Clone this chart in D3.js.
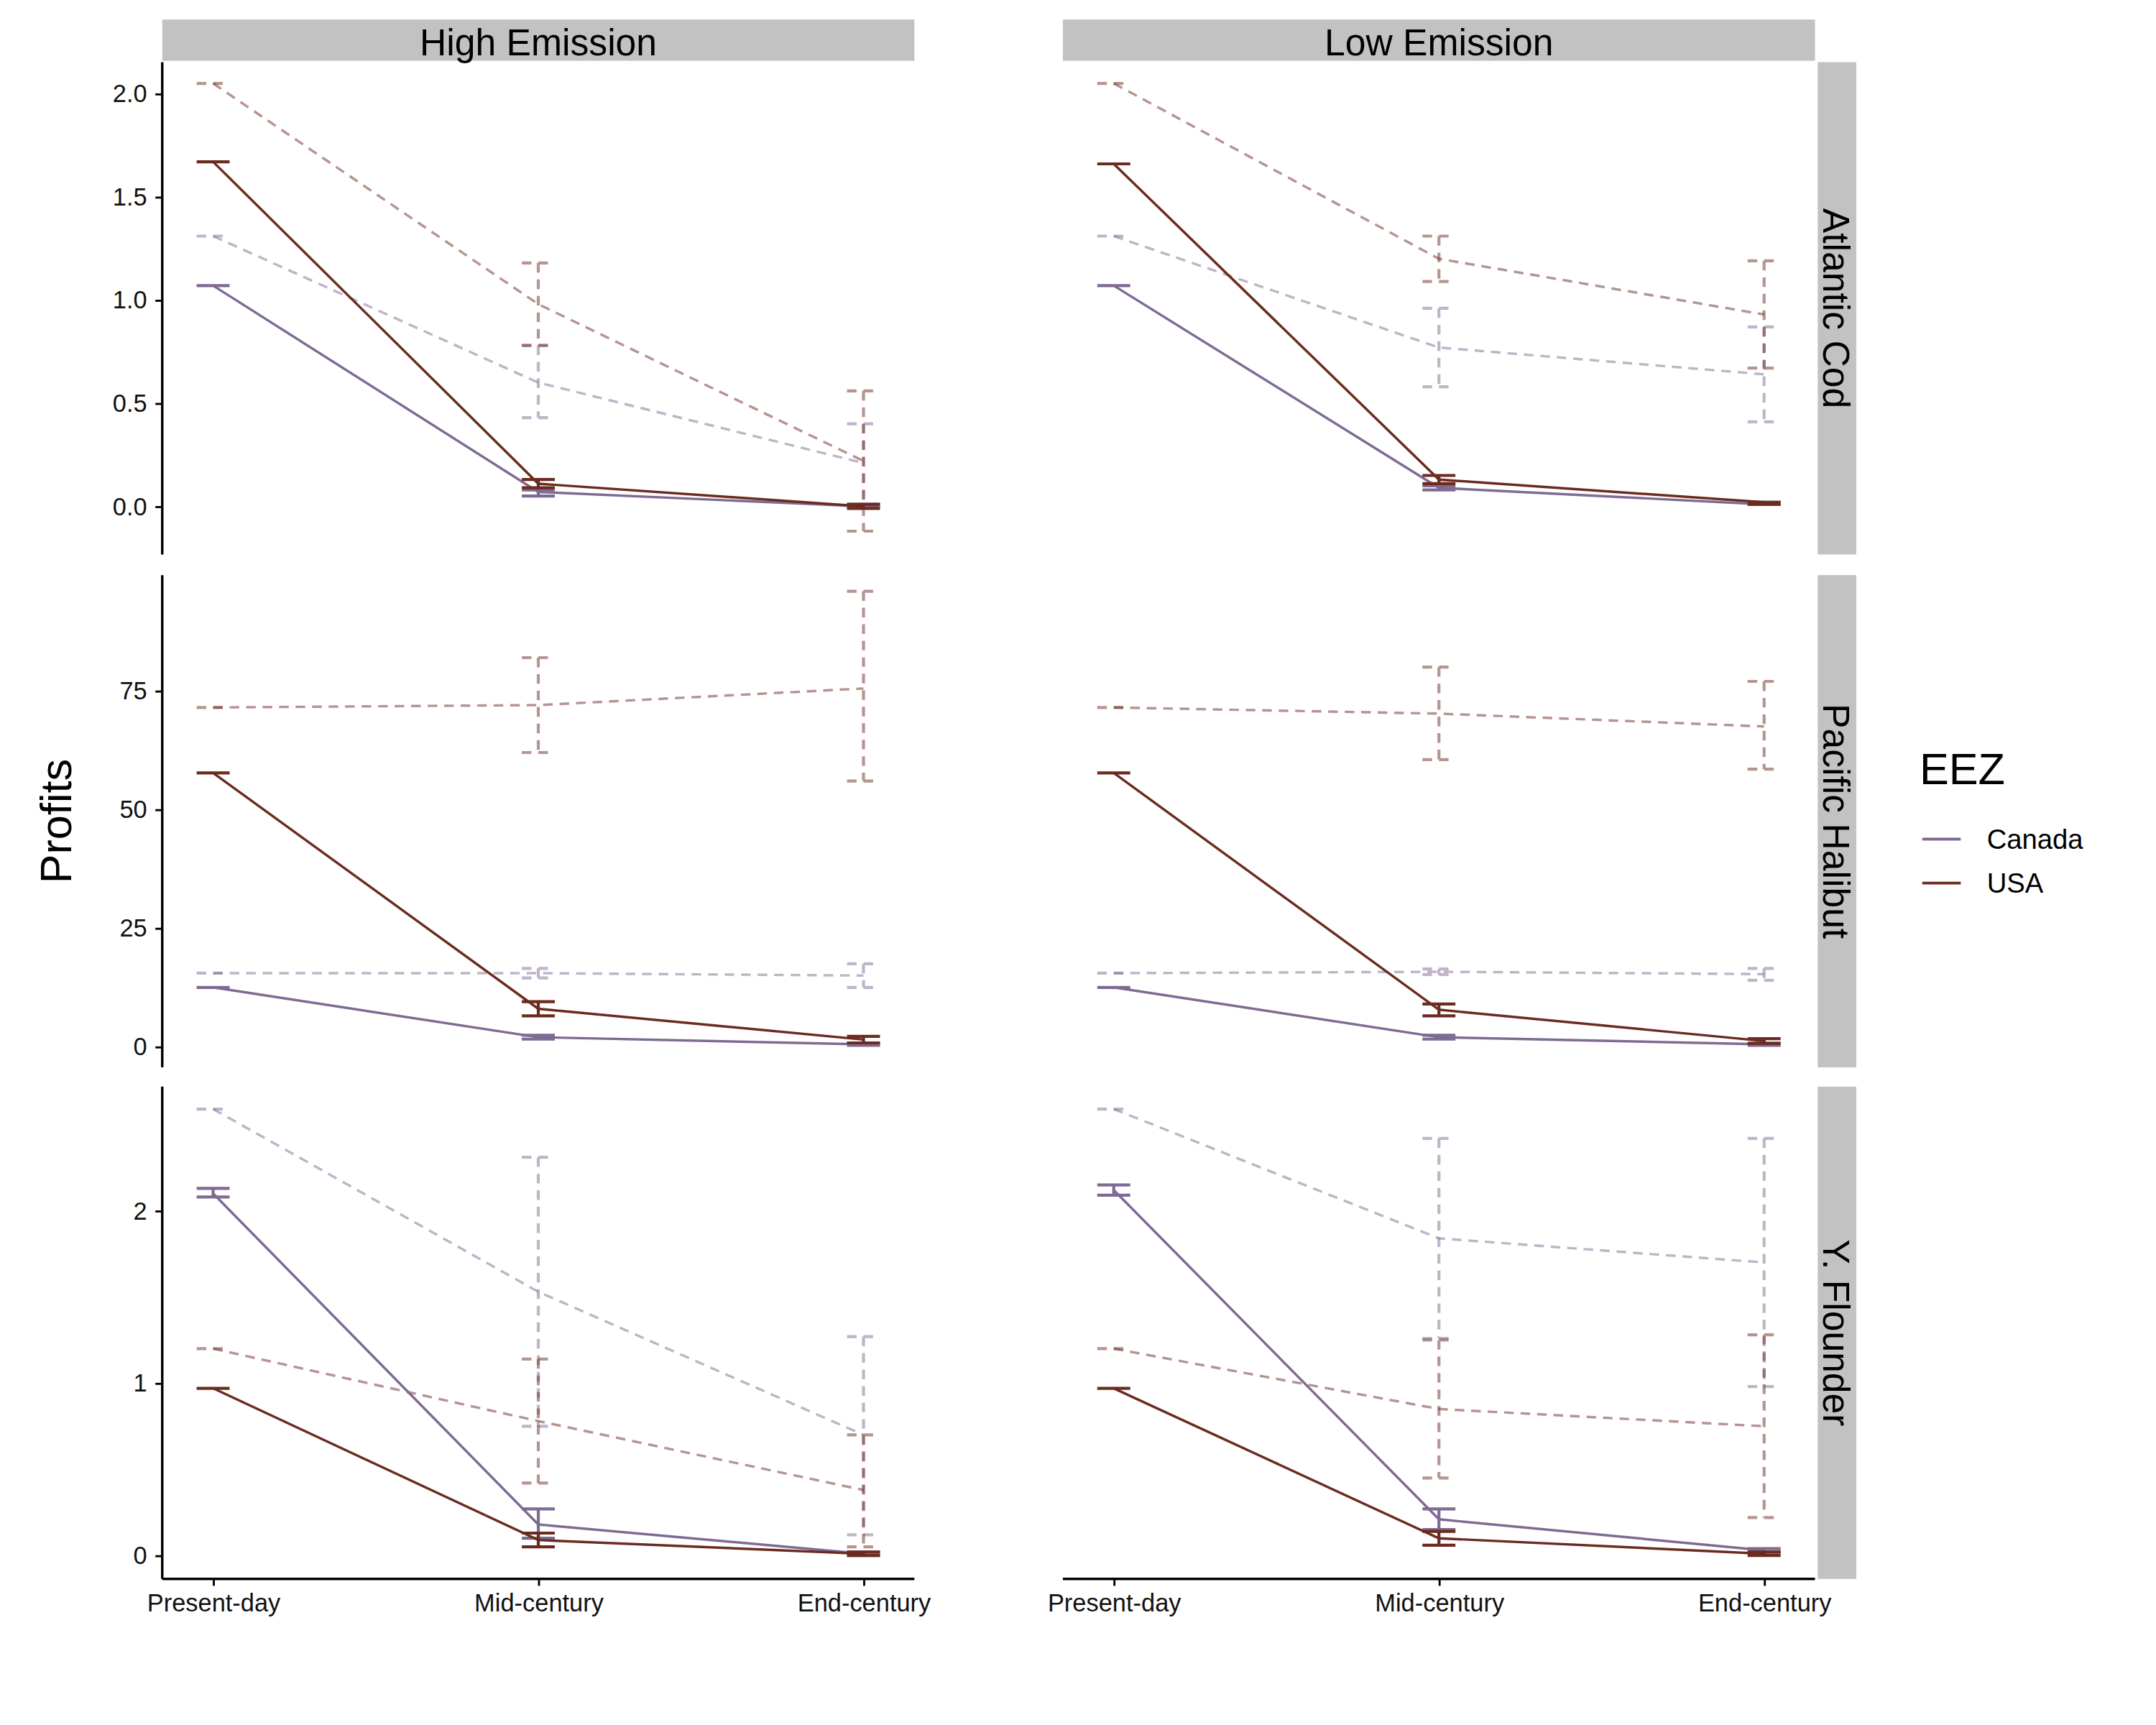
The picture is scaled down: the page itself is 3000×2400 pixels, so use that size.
<!DOCTYPE html>
<html><head><meta charset="utf-8">
<script src="https://cdn.jsdelivr.net/npm/d3@7"></script>
<style>body{margin:0;background:#fff}text{font-family:"Liberation Sans",Arial,sans-serif}</style>
</head><body><svg id="chart"></svg>
<script>
let times = ["Present-day", "Mid-century", "End-century"];
let scenarios = ["High Emission", "Low Emission"];
let species = ["Atlantic Cod", "Pacific Halibut", "Y. Flounder"];
let eez = ["Canada", "USA"];
let yTicks = [[0, 0.5, 1, 1.5, 2], [0, 25, 50, 75], [0, 1, 2]];
let yDomains = [[-0.233, 2.153], [-4.36, 99.4], [-0.136, 2.72]];
let yFormats = [".1f", "d", "d"];

// [mean, low, high] per time; index [species][scenario]
let canadaSolid = [
  [[[1.07,1.07,1.07],[0.07,0.05,0.08],[0.0,0.0,0.01]], [[1.07,1.07,1.07],[0.09,0.08,0.10],[0.01,0.01,0.02]]],
  [[[12.5,12.5,12.5],[2,1.6,2.4],[0.5,0.3,0.7]], [[12.5,12.5,12.5],[2,1.6,2.4],[0.5,0.3,0.7]]],
  [[[2.1,2.08,2.13],[0.18,0.1,0.27],[0.01,0,0.02]], [[2.12,2.09,2.15],[0.21,0.15,0.27],[0.03,0.02,0.04]]]
];
let usaSolid = [
  [[[1.67,1.67,1.67],[0.11,0.09,0.13],[0.0,-0.01,0.01]], [[1.66,1.66,1.66],[0.13,0.11,0.15],[0.02,0.01,0.02]]],
  [[[57.7,57.7,57.7],[8,6.5,9.5],[1.5,0.8,2.2]], [[57.7,57.7,57.7],[7.8,6.5,9],[1.2,0.7,1.7]]],
  [[[0.97,0.97,0.97],[0.09,0.05,0.13],[0.01,0,0.02]], [[0.97,0.97,0.97],[0.1,0.06,0.14],[0.01,0,0.02]]]
];
let canadaDashed = [
  [[[1.31,1.31,1.31],[0.6,0.43,0.78],[0.21,0.0,0.4]], [[1.31,1.31,1.31],[0.77,0.58,0.96],[0.64,0.41,0.87]]],
  [[[15.5,15.5,15.5],[15.5,14.5,16.5],[15,12.5,17.5]], [[15.5,15.5,15.5],[15.8,15.2,16.4],[15.3,14,16.5]]],
  [[[2.59,2.59,2.59],[1.53,0.75,2.31],[0.7,0.12,1.27]], [[2.59,2.59,2.59],[1.84,1.26,2.42],[1.7,0.98,2.42]]]
];
let usaDashed = [
  [[[2.05,2.05,2.05],[0.98,0.78,1.18],[0.22,-0.12,0.56]], [[2.05,2.05,2.05],[1.2,1.09,1.31],[0.93,0.67,1.19]]],
  [[[71.5,71.5,71.5],[72,62,82],[75.5,56,96]], [[71.5,71.5,71.5],[70.2,60.5,80],[67.5,58.5,77]]],
  [[[1.2,1.2,1.2],[0.78,0.42,1.14],[0.38,0.05,0.7]], [[1.2,1.2,1.2],[0.85,0.45,1.25],[0.75,0.22,1.28]]]
];
let colors = {Canada: "#7f6a93", USA: "#6b2b1f"};

let W = 1568, H = 1254;
let svg = d3.select("#chart").attr("width", 3000).attr("height", 2400)
  .attr("viewBox", `0 0 ${W} ${H}`);

let colX = [118, 773], panelW = 547;
let rowY = [45, 418, 790], panelH = 358;

scenarios.forEach((sc, c) => {
  let x = d3.scalePoint().domain(times).range([colX[c] + 37, colX[c] + panelW - 37]);
  // strip
  svg.append("rect").attr("x", colX[c]).attr("y", 14).attr("width", panelW).attr("height", 30).attr("fill", "#c2c2c2");
  svg.append("text").attr("x", colX[c] + panelW / 2).attr("y", 40).attr("text-anchor", "middle")
    .attr("font-size", 27).text(sc);

  species.forEach((sp, r) => {
    let y = d3.scaleLinear().domain(yDomains[r]).range([rowY[r] + panelH, rowY[r]]);
    let g = svg.append("g");
    let series = [
      {d: canadaDashed[r][c], col: colors.Canada, dash: true},
      {d: usaDashed[r][c], col: colors.USA, dash: true},
      {d: canadaSolid[r][c], col: colors.Canada, dash: false},
      {d: usaSolid[r][c], col: colors.USA, dash: false}
    ];
    series.forEach(s => {
      let op = s.dash ? 0.5 : 1;
      let da = s.dash ? "7,5" : null;
      g.append("path").datum(s.d)
        .attr("d", d3.line().x((d, i) => x(times[i])).y(d => y(d[0])))
        .attr("fill", "none").attr("stroke", s.col).attr("stroke-width", 1.8)
        .attr("stroke-dasharray", da).attr("opacity", op);
      let eb = g.selectAll(null).data(s.d).enter().append("g").attr("opacity", op);
      eb.append("path")
        .attr("d", (d, i) => {
          let cx = x(times[i]);
          return `M${cx - 12},${y(d[2])}H${cx + 12}M${cx},${y(d[2])}V${y(d[1])}M${cx - 12},${y(d[1])}H${cx + 12}`;
        })
        .attr("fill", "none").attr("stroke", s.col).attr("stroke-width", 2.2).attr("stroke-dasharray", da);
    });

    if (c === 0) {
      let ax = svg.append("g").attr("transform", `translate(${colX[0]},0)`)
        .call(d3.axisLeft(y).tickValues(yTicks[r]).tickFormat(d3.format(yFormats[r])).tickSize(5).tickPadding(6));
      ax.select(".domain").attr("d", `M0,${rowY[r]}V${rowY[r] + panelH}`).attr("stroke-width", 1.8);
      ax.selectAll("text").attr("font-size", 18).attr("fill", "#111");
      ax.selectAll(".tick line").attr("stroke-width", 1.5);
    }
    if (r === 2) {
      let ax = svg.append("g").attr("transform", `translate(0,${rowY[2] + panelH})`)
        .call(d3.axisBottom(x).tickSize(5).tickPadding(6));
      ax.select(".domain").attr("d", `M${colX[c]},0H${colX[c] + panelW}`).attr("stroke-width", 1.8);
      ax.selectAll("text").attr("font-size", 18).attr("fill", "#111");
      ax.selectAll(".tick line").attr("stroke-width", 1.5);
    }
    if (c === 1) {
      svg.append("rect").attr("x", 1322).attr("y", rowY[r]).attr("width", 28).attr("height", panelH).attr("fill", "#c2c2c2");
      let cy = rowY[r] + panelH / 2;
      svg.append("text").attr("transform", `translate(1326,${cy}) rotate(90)`).attr("text-anchor", "middle")
        .attr("font-size", 27).text(sp);
    }
  });
});

svg.append("text").attr("transform", `translate(52,597) rotate(-90)`).attr("text-anchor", "middle")
  .attr("font-size", 32).text("Profits");

// legend
svg.append("text").attr("x", 1396).attr("y", 570).attr("font-size", 32).text("EEZ");
eez.forEach((e, i) => {
  let ly = 610 + i * 32;
  svg.append("line").attr("x1", 1398).attr("x2", 1426).attr("y1", ly).attr("y2", ly)
    .attr("stroke", colors[e]).attr("stroke-width", 2);
  svg.append("text").attr("x", 1445).attr("y", ly + 7).attr("font-size", 20).text(e);
});
</script></body></html>
